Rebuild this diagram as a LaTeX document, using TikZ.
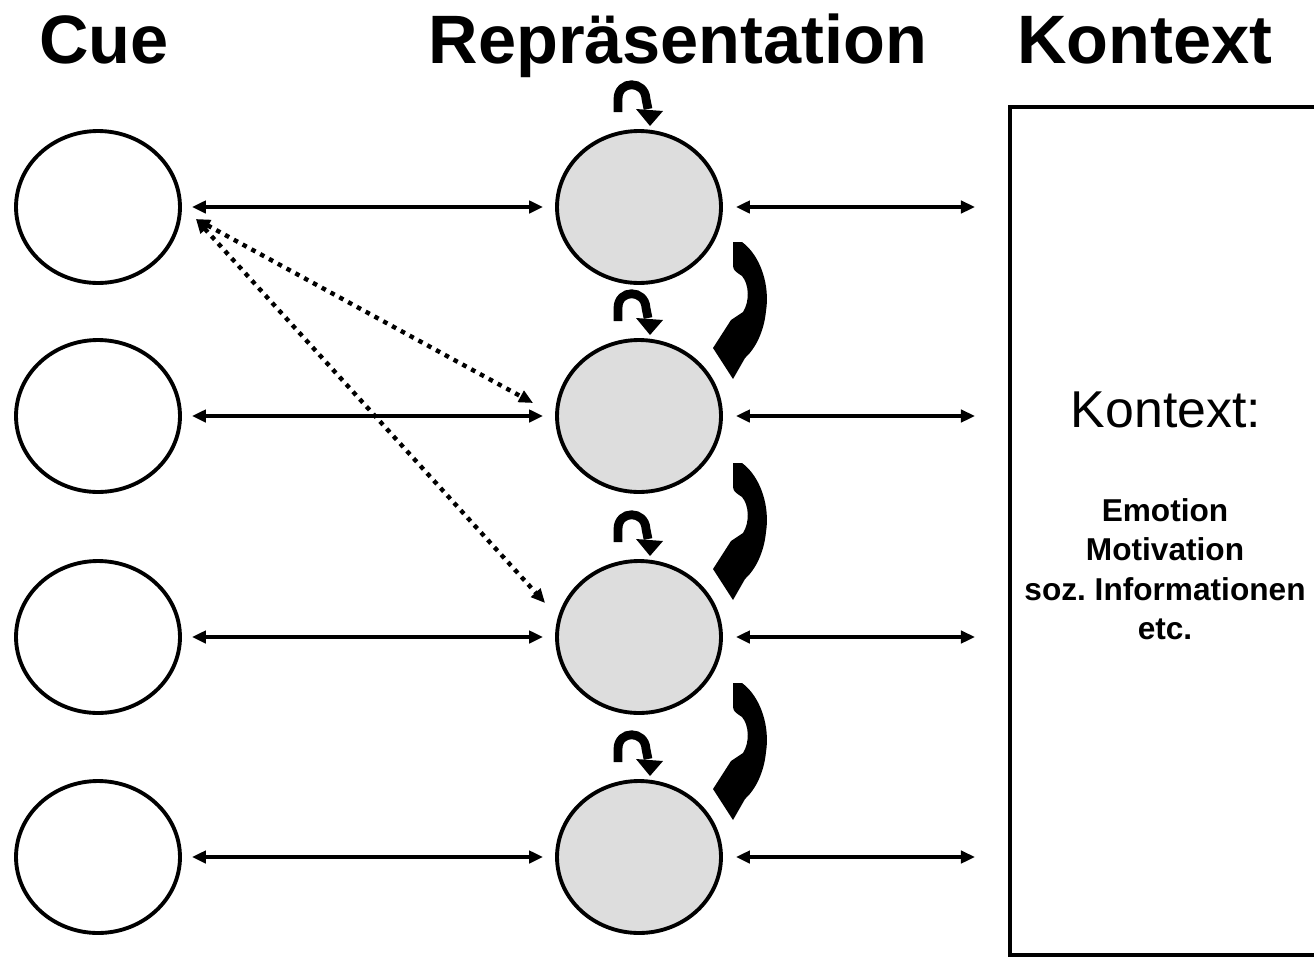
\documentclass[tikz,border=0pt]{standalone}
\usepackage{fontspec}
\setmainfont{Liberation Sans}
\usetikzlibrary{shapes.geometric,arrows.meta}
\definecolor{repgray}{RGB}{221,221,221}
\begin{document}
\begin{tikzpicture}[x=0.02cm,y=-0.02cm,
  cuenode/.style={ellipse,draw,line width=2.2pt,minimum width=3.28cm,minimum height=3.04cm,inner sep=0pt},
  repnode/.style={cuenode,fill=repgray},
  tipboth/.style={{Triangle[length=8pt,width=7pt]}-{Triangle[length=8pt,width=7pt]}},
  biarrow/.style={tipboth,line width=2pt},
  dotarrow/.style={tipboth,line width=2.5pt,dash pattern=on 2.6pt off 3.1pt},
  titletext/.style={font=\fontsize{39pt}{46pt}\selectfont\bfseries,anchor=base,inner sep=0pt},
  kheadtext/.style={font=\fontsize{29.5pt}{35pt}\selectfont,anchor=base,inner sep=0pt},
  klisttext/.style={font=\fontsize{18pt}{22pt}\selectfont\bfseries,anchor=base,inner sep=0pt},
  kboxstyle/.style={draw,line width=2.2pt,inner sep=0pt,outer sep=0pt,anchor=north west,minimum width=6.6cm,minimum height=16.96cm},
  bigcurl/.pic={\fill (94,-174) -- (103,-174) .. controls (122,-160) and (131,-130) .. (127,-105)
                 .. controls (125,-85) and (117,-68) .. (106,-58) -- (94,-37) -- (74,-68) -- (92,-96) -- (104,-104)
                 .. controls (111,-115) and (110,-132) .. (103,-140) .. controls (99,-143) and (94,-145) .. (94,-150) -- cycle;},
  selfloop/.pic={\draw[line width=5pt] (-21,-95) -- (-21,-108) .. controls (-21,-127) and (6,-127) .. (7,-108) -- (9,-98);
                 \fill (-3,-98) -- (24,-96) -- (11,-81) -- cycle;}
]
\useasboundingbox (0,0) rectangle (1314,957);
\fill[white] (0,0) rectangle (1314,957);
\clip (0,0) rectangle (1314,957);

% titles
\node[titletext] (tcue) at (104,63) {Cue};
\node[titletext] (trep) at (678,63) {Repräsentation};
\node[titletext] (tkon) at (1145,63) {Kontext};

% context box
\node[kboxstyle] (kbox) at (1010,107) {};
\node[kheadtext] (ktitle) at (1166,427) {Kontext:};
\node[klisttext] (kl1) at (1165,521) {Emotion};
\node[klisttext] (kl2) at (1165,560) {Motivation};
\node[klisttext] (kl3) at (1165,600) {soz.\ Informationen};
\node[klisttext] (kl4) at (1165,639) {etc.};

% circles
\foreach \i/\y in {1/207,2/416,3/637,4/857}{
  \node[cuenode] (c\i) at (98,\y) {};
  \node[repnode] (r\i) at (639,\y) {};
}

% horizontal connectors and self loops
\foreach \i in {1,...,4}{
  \draw[biarrow,shorten <=0.2cm,shorten >=0.24cm] (c\i) -- (r\i);
  \draw[biarrow,shorten <=0.26cm,shorten >=0.7cm] (r\i.east) -- (kbox.west |- r\i.east);
  \pic (loop\i) at (r\i.center) {selfloop};
}

% curved arrows between representations
\pic (curl12) at (r2.center) {bigcurl};
\pic (curl23) at (r3.center) {bigcurl};
\pic (curl34) at (r4.center) {bigcurl};

% dotted connectors
\coordinate (d0) at ([shift={(14,12)}]c1.east);
\coordinate (d2) at ([shift={(-22,-13)}]r2.west);
\coordinate (d3) at ([shift={(-10,-34)}]r3.west);
\draw[dotarrow] (d0) -- (d2);
\draw[dotarrow] (d0) -- (d3);
\end{tikzpicture}
\end{document}
